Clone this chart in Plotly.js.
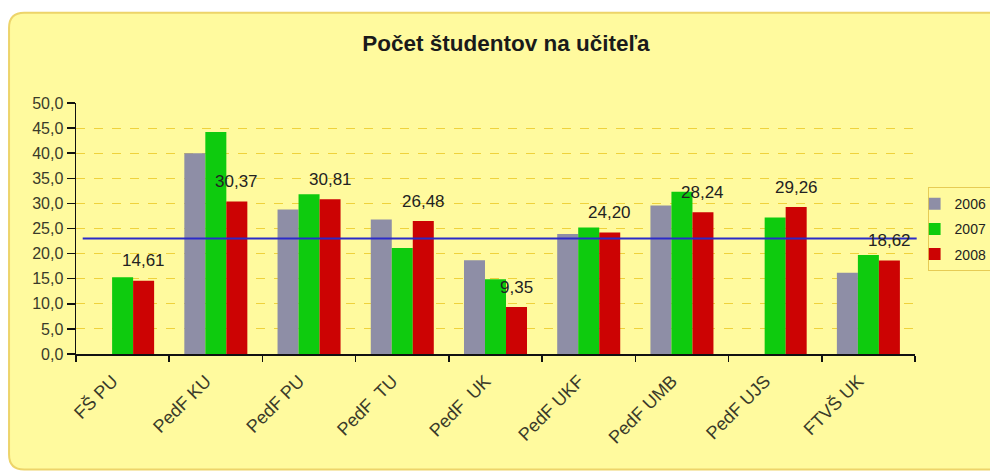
<!DOCTYPE html>
<html>
<head>
<meta charset="utf-8">
<script src="https://cdn.plot.ly/plotly-3.0.1.min.js"></script>
<style>
html,body{margin:0;padding:0;background:#ffffff;}
#chart{width:990px;height:473px;}
</style>
</head>
<body>
<div id="chart"></div>
<script>
const categories = ["FŠ PU", "PedF KU", "PedF PU", "PedF  TU", "PedF  UK", "PedF UKF", "PedF UMB", "PedF UJS", "FTVŠ UK"];
const values2006 = [null, 40.0, 28.8, 26.8, 18.7, 23.9, 29.6, null, 16.2];
const values2007 = [15.3, 44.2, 31.8, 21.1, 14.9, 25.2, 32.3, 27.2, 19.7];
const values2008 = [14.61, 30.37, 30.81, 26.48, 9.35, 24.20, 28.24, 29.26, 18.62];
const seriesNames = ["2006", "2007", "2008"];
const averageValue = 23.0;
const yTicks = [0, 5, 10, 15, 20, 25, 30, 35, 40, 45, 50];

const bg = "#FFFA9E";
const colors = ["#8E8EA6", "#0ECB0E", "#CC0303"];
const allValues = [values2006, values2007, values2008];
const fontFam = "Liberation Sans, Arial, sans-serif";

const traces = allValues.map((vals, i) => ({
  type: "bar",
  name: seriesNames[i],
  x: categories,
  y: vals,
  marker: {color: colors[i], line: {width: 0}},
  legendgroup: "g" + i,
  hoverinfo: "x+y+name"
}));

const fmt = v => v.toFixed(2).replace(".", ",");
const annotations = categories.map((c, i) => ({
  x: c, y: values2008[i], xref: "x", yref: "y",
  text: fmt(values2008[i]),
  showarrow: false, xshift: 21, yshift: 20,
  font: {family: fontFam, size: 17, color: "#222"}
}));

// rounded background panel in paper coordinates
const L = -0.0798, R = 1.12, T = 1.36, B = -0.46;
const rx = 0.018, ry = 0.06;
const panelPath = `M ${L+rx},${T} L ${R},${T} L ${R},${B} L ${L+rx},${B} Q ${L},${B} ${L},${B+ry} L ${L},${T-ry} Q ${L},${T} ${L+rx},${T} Z`;

const layout = {
  width: 990, height: 473,
  paper_bgcolor: "#ffffff",
  plot_bgcolor: "rgba(0,0,0,0)",
  separators: ", ",
  margin: {l: 76, r: 75, t: 103, b: 119, autoexpand: false},
  barmode: "group",
  bargap: 0.324,
  bargroupgap: 0,
  font: {family: fontFam, size: 14, color: "#333"},
  title: {
    text: "<b>Počet študentov na učiteľa</b>",
    x: 0.511, xanchor: "center", y: 0.909, yanchor: "middle",
    font: {family: fontFam, size: 22.5, color: "#1a1a1a"}
  },
  xaxis: {
    type: "category",
    showline: true, linecolor: "#111", linewidth: 1.5,
    ticks: "outside", tickson: "boundaries", ticklen: 6, tickcolor: "#111", tickwidth: 1.5,
    tickangle: -45, ticklabelstandoff: 8, ticklabelshift: -10,
    tickfont: {size: 18, color: "#3a3a2a"},
    showgrid: false, zeroline: false
  },
  yaxis: {
    range: [0, 50], tickvals: yTicks, tickformat: ".1f",
    showline: true, linecolor: "#111", linewidth: 1.5,
    ticks: "outside", ticklen: 8, tickcolor: "#111", tickwidth: 1.5,
    tickfont: {size: 16, color: "#3a3a2a"},
    showgrid: true, gridcolor: "#EFD23C", griddash: "dash", gridwidth: 1,
    zeroline: false
  },
  legend: {
    x: 1.015, xanchor: "left", y: 0.665, yanchor: "top",
    bgcolor: bg, bordercolor: "#E6CB55", borderwidth: 1,
    font: {size: 14, color: "#222"},
    itemwidth: 30, tracegroupgap: 4, indentation: -14
  },
  annotations: annotations,
  shapes: [
    {type: "path", xref: "paper", yref: "paper", path: panelPath,
     fillcolor: bg, line: {color: "#EDD46A", width: 2}, layer: "below"},
    {type: "line", xref: "paper", yref: "y", x0: 0.008, x1: 1.002, y0: averageValue, y1: averageValue,
     line: {color: "#2B2BC8", width: 2}, layer: "above"}
  ]
};

Plotly.newPlot("chart", traces, layout, {displayModeBar: false, staticPlot: true});
</script>
</body>
</html>
